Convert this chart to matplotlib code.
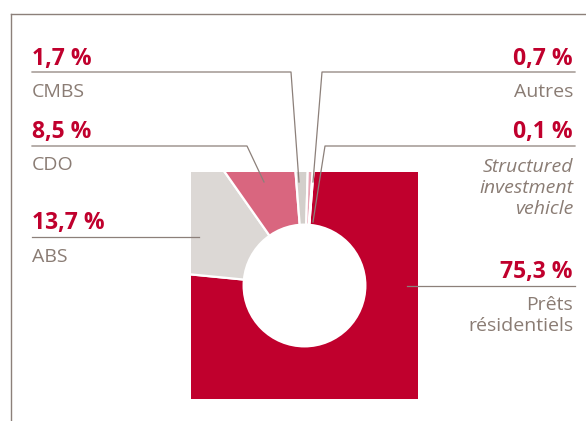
import matplotlib.pyplot as plt
from matplotlib.lines import Line2D
from matplotlib.patches import Circle

W, H = 586, 421

# Répartition du portefeuille (%)
labels = ["Prêts\nrésidentiels", "ABS", "CDO", "CMBS", "Autres", "Structured\ninvestment\nvehicle"]
values = [75.3, 13.7, 8.5, 1.7, 0.7, 0.1]
value_text = ["75,3 %", "13,7 %", "8,5 %", "1,7 %", "0,7 %", "0,1 %"]
colors = ["#c0002d", "#dcd8d5", "#d9667f", "#d3cfcb", "#e9a3b3", "#e07d93"]

RED = "#c0002d"
GREY_TXT = "#8a7c74"
GREY_LINE = "#8c807a"


def px(x, y):
    # pixels (origine en haut à gauche) -> fraction de figure
    return x / W, 1 - y / H


fig = plt.figure(figsize=(W / 100, H / 100), dpi=100)

# camembert carré, coupé par le cadre de l'axe
left, top, right, bottom = 191, 172, 418, 399
ax = fig.add_axes([left / W, 1 - bottom / H, (right - left) / W, (bottom - top) / H])
wedges, _ = ax.pie(values, colors=colors, radius=1.5, startangle=85.5, counterclock=False,
                   wedgeprops=dict(edgecolor="white", linewidth=1.6))
for w in wedges:
    w.set_clip_on(True)
    w.set_clip_path(ax.patch)
ax.add_patch(Circle((0, 0), 0.546, facecolor="white", edgecolor="none", zorder=5))
ax.set_xlim(-1, 1)
ax.set_ylim(-1, 1)
ax.set_aspect("auto")
ax.axis("off")

# cadre gris
fig.add_artist(Line2D([11 / W, 1], [1 - 13.5 / H] * 2, color=GREY_LINE, lw=1.0, transform=fig.transFigure))
fig.add_artist(Line2D([11 / W] * 2, [1 - 13.5 / H, 0], color=GREY_LINE, lw=1.0, transform=fig.transFigure))


def leader(points):
    xs, ys = zip(*[px(x, y) for x, y in points])
    fig.add_artist(Line2D(xs, ys, color=GREY_LINE, lw=0.9, transform=fig.transFigure, zorder=10))


val_font = dict(family="Open Sans", weight="bold", size=16.5, color=RED)
lab_font = dict(family="Open Sans", size=14, color=GREY_TXT)

# (index, x, ligne de base valeur, ligne de base libellé, alignement, tracé du repère)
annotations = [
    (3, 32, 65, 97, "left", [(32, 72), (291, 72), (299, 182)]),
    (2, 32, 138, 170, "left", [(32, 146), (247, 146), (264, 182)]),
    (1, 32, 229, 262, "left", [(32, 237), (199, 237)]),
    (4, 573, 65, 97, "right", [(575, 72), (322, 72), (313, 182)]),
    (5, 573, 138, 172, "right", [(575, 146), (325, 146), (313, 222)]),
    (0, 573, 278, 310, "right", [(575, 286), (407, 286)]),
]

for i, x, yv, yl, ha, pts in annotations:
    fig.text(*px(x, yv), value_text[i], ha=ha, va="baseline", **val_font)
    style = "italic" if i == 5 else "normal"
    for k, line in enumerate(labels[i].split("\n")):
        fig.text(*px(x, yl + k * 21), line, ha=ha, va="baseline", style=style, **lab_font)
    leader(pts)

fig.savefig("out.png", dpi=100)
